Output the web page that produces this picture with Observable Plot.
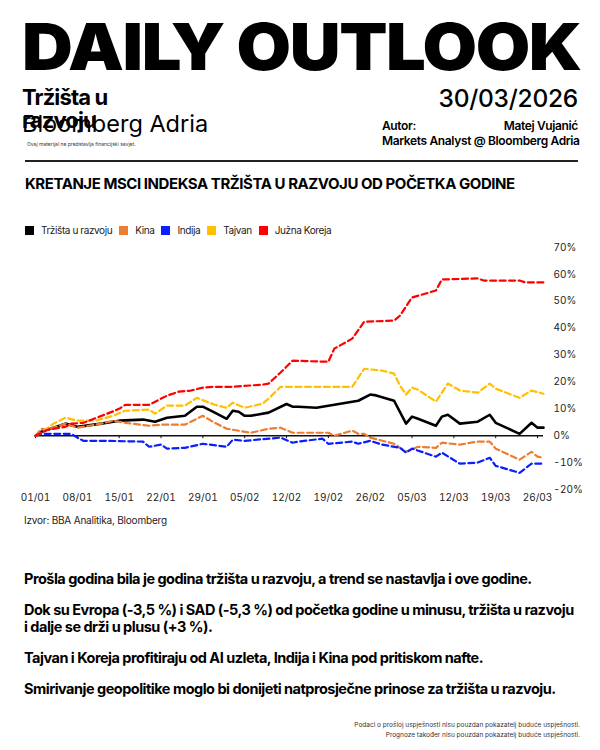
<!DOCTYPE html>
<html><head><meta charset="utf-8">
<script src="https://cdn.jsdelivr.net/npm/d3@7"></script>
<script src="https://cdn.jsdelivr.net/npm/@observablehq/plot@0.6"></script>
<style>
body{margin:0;width:600px;height:750px;background:#fff;font-family:Inter,"Liberation Sans",sans-serif;color:#000;position:relative;overflow:hidden}
.a{position:absolute;white-space:nowrap;line-height:1}
#title{left:22px;top:15px;font-size:64px;font-weight:900;letter-spacing:-0.02em;transform:scaleX(1.1);transform-origin:0 0}
#sub{left:22px;top:86px;font-size:22px;font-weight:700;line-height:23px;white-space:normal;width:95px;letter-spacing:-0.04em}
#brand{left:22px;top:112px;font-size:23.5px;font-weight:400;letter-spacing:0}
#disc{left:27px;top:142px;font-size:5px;color:#333}
#date{right:22px;top:86px;font-size:24.5px;font-weight:500;letter-spacing:-0.01em}
#autor{left:382px;top:120px;width:196px;font-size:12px;font-weight:600;letter-spacing:-0.03em}
#autor div{display:flex;justify-content:space-between;height:15px}
#rule{left:25px;top:160px;width:553px;height:2px;background:#222}
#ctitle{left:25px;top:176px;font-size:15px;font-weight:700;letter-spacing:-0.03em}
#legend{left:25px;top:225px;font-size:10px;color:#222;display:flex;align-items:center}
#legend span.sw{display:inline-block;width:9px;height:9px;margin-right:7px}
#legend span.lb{margin-right:7px;letter-spacing:-0.04em}
#chart{left:0;top:240px}
#src{left:24px;top:515px;font-size:10px;color:#222;letter-spacing:-0.02em}
#bul{left:24px;top:570px;font-size:14.5px;font-weight:700;letter-spacing:-0.035em;line-height:17px}
#bul p{margin:0 0 14px 0}
#foot{right:20px;top:720px;font-size:6.5px;color:#333;text-align:right;line-height:10px}
</style></head><body>
<div class="a" id="title">DAILY OUTLOOK</div>
<div class="a" id="brand">Bloomberg Adria</div>
<div class="a" id="sub">Tržišta u razvoju</div>
<div class="a" id="disc">Ovaj materijal ne predstavlja financijski savjet.</div>
<div class="a" id="date">30/03/2026</div>
<div class="a" id="autor"><div><span>Autor:</span><span>Matej Vujanić</span></div><div><span>Markets Analyst @ Bloomberg Adria</span></div></div>
<div class="a" id="rule"></div>
<div class="a" id="ctitle">KRETANJE MSCI INDEKSA TRŽIŠTA U RAZVOJU OD POČETKA GODINE</div>
<div class="a" id="legend"></div>
<div class="a" id="chart"></div>
<div class="a" id="src">Izvor: BBA Analitika, Bloomberg</div>
<div class="a" id="bul">
<p>Prošla godina bila je godina tržišta u razvoju, a trend se nastavlja i ove godine.</p>
<p>Dok su Evropa (-3,5 %) i SAD (-5,3 %) od početka godine u minusu, tržišta u razvoju<br>i dalje se drži u plusu (+3 %).</p>
<p>Tajvan i Koreja profitiraju od AI uzleta, Indija i Kina pod pritiskom nafte.</p>
<p>Smirivanje geopolitike moglo bi donijeti natprosječne prinose za tržišta u razvoju.</p>
</div>
<div class="a" id="foot">Podaci o prošloj uspješnosti nisu pouzdan pokazatelj buduće uspješnosti.<br>Prognoze također nisu pouzdan pokazatelj buduće uspješnosti.</div>
<script>
// ---- data (YTD % change) ----
const seriesNames = ["Tržišta u razvoju", "Kina", "Indija", "Tajvan", "Južna Koreja"];
const seriesColors = ["#000000", "#ED7D31", "#0A1EFF", "#FFC000", "#FF0000"];

const emDates = ["01-01","01-02","01-06","01-08","01-12","01-15","01-19","01-21","01-23","01-26","01-28","01-29","01-31","02-02","02-03","02-04","02-05","02-06","02-09","02-12","02-13","02-14","02-17","02-20","02-24","02-26","02-27","03-02","03-04","03-05","03-06","03-09","03-10","03-11","03-13","03-16","03-18","03-19","03-23","03-25","03-26","03-27"];
const emValues = [0,1.5,4.5,3.3,4.5,5.6,6.0,5.2,6.7,7.4,10.8,10.8,8.6,6.3,9.3,8.9,7.4,7.4,8.6,11.8,10.8,10.8,10.4,11.5,13.0,15.3,15.0,13.0,4.5,7.1,6.3,3.7,7.1,7.8,4.5,5.2,7.8,4.8,0.7,4.8,3.0,3.0];

const chinaDates = ["01-01","01-02","01-03","01-06","01-08","01-12","01-14","01-16","01-20","01-22","01-26","01-29","01-31","02-02","02-06","02-09","02-11","02-13","02-19","02-20","02-23","02-24","02-25","02-26","03-02","03-04","03-06","03-09","03-10","03-13","03-16","03-18","03-19","03-23","03-25","03-26","03-27"];
const chinaValues = [0,2.6,2.2,4.5,3.0,4.5,5.6,4.8,3.7,4.1,4.1,7.4,4.8,2.6,1.1,2.6,3.0,1.1,1.1,0,1.9,0.7,0.7,-0.7,-3.0,-6.0,-4.1,-4.5,-2.6,-3.3,-2.2,-2.2,-4.8,-8.9,-6.0,-7.8,-8.2];

const indiaDates = ["01-01","01-02","01-07","01-08","01-09","01-13","01-19","01-20","01-22","01-23","01-26","01-29","02-02","02-03","02-05","02-11","02-13","02-14","02-18","02-19","02-23","02-24","02-26","02-28","03-03","03-04","03-05","03-09","03-10","03-13","03-16","03-18","03-19","03-23","03-25","03-27"];
const indiaValues = [0,0.7,0.7,-0.7,-1.9,-1.9,-2.2,-4.1,-3.3,-4.8,-4.5,-3.0,-4.1,-1.5,-1.9,-0.7,-2.6,-2.2,-1.1,-3.0,-2.2,-3.0,-1.9,-3.3,-4.5,-6.3,-4.8,-7.8,-6.3,-10.4,-10.0,-8.2,-11.2,-13.8,-10.4,-10.4];

const taiwanDates = ["01-01","01-02","01-04","01-06","01-08","01-11","01-14","01-16","01-20","01-21","01-23","01-26","01-28","01-31","02-02","02-03","02-05","02-08","02-09","02-11","02-23","02-25","02-28","03-02","03-03","03-04","03-05","03-06","03-09","03-11","03-13","03-16","03-18","03-19","03-23","03-25","03-27"];
const taiwanValues = [0,1.1,4.5,6.7,5.6,5.6,7.4,9.3,9.7,8.2,11.2,11.2,14.1,11.5,10.4,12.3,10.4,11.9,13.8,18.2,18.2,24.9,24.2,23.1,18.6,15.3,17.9,17.1,12.7,19.4,16.8,16.0,19.4,17.5,14.1,16.8,15.6];

const koreaDates = ["01-01","01-03","01-06","01-07","01-09","01-13","01-15","01-16","01-20","01-23","01-25","01-27","01-29","01-31","02-03","02-08","02-09","02-11","02-13","02-19","02-20","02-23","02-25","03-02","03-03","03-05","03-09","03-10","03-16","03-17","03-23","03-24","03-27"];
const koreaValues = [0,2.2,3.3,4.5,4.8,8.2,10.0,11.5,11.5,14.9,16.4,16.8,17.9,18.2,18.2,19.0,19.4,23.5,27.9,27.5,32.4,36.1,42.4,42.8,44.7,51.4,54.0,58.1,58.5,57.7,57.7,57.0,57.0];

const xTickDates = ["01-01","01-08","01-15","01-22","01-29","02-05","02-12","02-19","02-26","03-05","03-12","03-19","03-26"];
const yTicks = [-20,-10,0,10,20,30,40,50,60,70];
const xStart = "01-01", xEnd = "03-27";

// ---- build ----
const d = s => new Date("2026-" + s + "T00:00:00Z");
const table = (dates, vals) => dates.map((s, i) => ({date: d(s), value: vals[i]}));
const series = [
  table(emDates, emValues), table(chinaDates, chinaValues), table(indiaDates, indiaValues),
  table(taiwanDates, taiwanValues), table(koreaDates, koreaValues)
];

const legend = document.getElementById("legend");
seriesNames.forEach((n, i) => {
  legend.insertAdjacentHTML("beforeend", `<span class="sw" style="background:${seriesColors[i]}"></span><span class="lb">${n}</span>`);
});

const lineMarks = series.map((data, i) => Plot.line(data, {
  x: "date", y: "value", stroke: seriesColors[i],
  strokeWidth: i === 0 ? 2.6 : 2.2,
  strokeDasharray: i === 0 ? null : "6,3.5",
  strokeLinejoin: "round", curve: "linear"
}));

const plot = Plot.plot({
  width: 600, height: 270,
  marginLeft: 35, marginRight: 57, marginTop: 7, marginBottom: 21,
  style: {fontFamily: "Inter, 'Liberation Sans', sans-serif", fontSize: "10px", color: "#222", background: "transparent"},
  x: {type: "utc", domain: [d(xStart), d(xEnd)], label: null},
  y: {domain: [-20, 70], label: null},
  marks: [
    Plot.axisX(xTickDates.map(d), {anchor: "bottom", tickSize: 0, tickPadding: 4, tickFormat: d3.utcFormat("%d/%m"), fill: "#222", label: null}),
    Plot.axisY(yTicks, {anchor: "right", tickSize: 0, tickPadding: 10, tickFormat: v => v + "%", fill: "#222", label: null}),
    Plot.ruleY([0], {stroke: "#111", strokeWidth: 1.4}),
    Plot.ruleX(xTickDates.map(d), {y1: 0, y2: -1.1, stroke: "#111", strokeWidth: 1}),
    ...lineMarks
  ]
});
document.getElementById("chart").appendChild(plot);
</script>
</body></html>
